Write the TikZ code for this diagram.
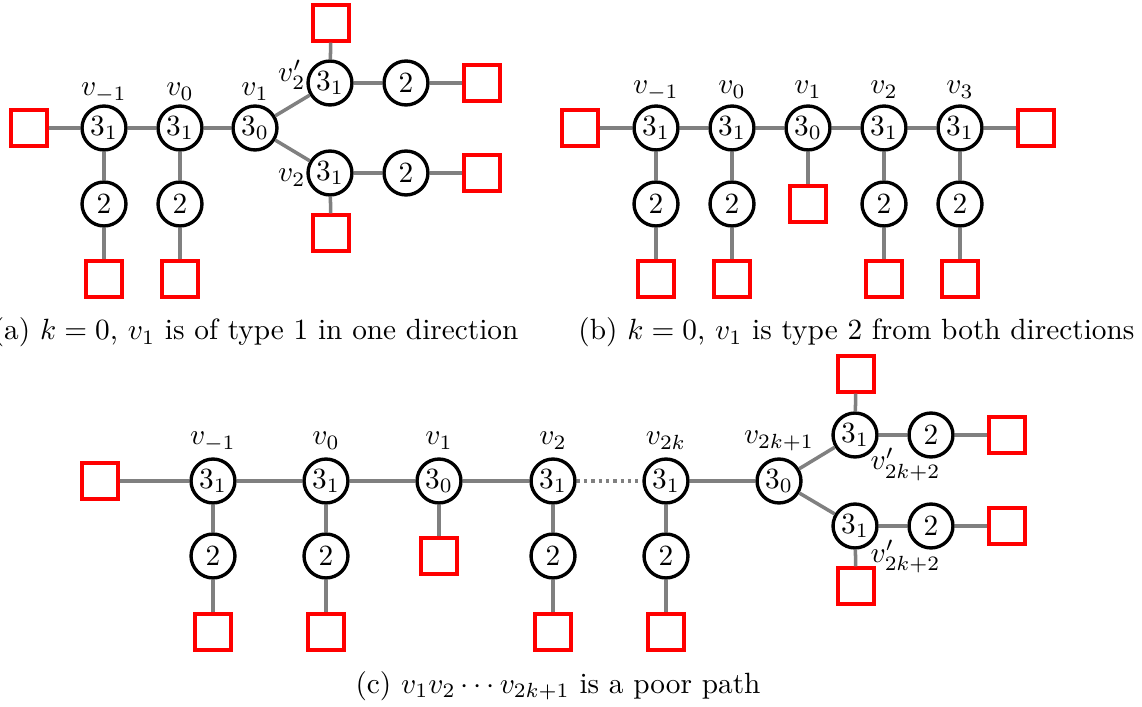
\documentclass[tikz,border=0pt]{standalone}
\usetikzlibrary{positioning}
\begin{document}
\begin{tikzpicture}[x=0.3413pt,y=-0.3413pt,
  vtx/.style={circle,draw=black,line width=1.15pt,minimum size=15pt,inner sep=0pt,fill=white},
  term/.style={rectangle,draw=red,line width=1.1pt,minimum size=12.3pt,inner sep=0pt},
  edge/.style={draw=gray,line width=1.2pt},
  dotedge/.style={edge,dash pattern=on 1.1pt off 1.4pt},
  lbl/.style={inner sep=0pt}]
\useasboundingbox (0,0) rectangle (1142,707);

% ---------- panel (a) ----------
\node[term] (sa0) at (29,128) {};
\node[vtx] (a1) at (104,128) {$3_1$};
\node[vtx] (a2) at (180,128) {$3_1$};
\node[vtx] (a3) at (255,128) {$3_0$};
\node[vtx] (a4) at (330,83) {$3_1$};
\node[vtx] (a5) at (406,83) {$2$};
\node[term] (sa5) at (482,83) {};
\node[term] (sa4) at (331,23) {};
\node[vtx] (a6) at (330,173) {$3_1$};
\node[vtx] (a7) at (406,173) {$2$};
\node[term] (sa7) at (482,173) {};
\node[term] (sa6) at (331,233) {};
\node[vtx] (a1b) at (104,204) {$2$};
\node[vtx] (a2b) at (180,204) {$2$};
\node[term] (sa1) at (104,279) {};
\node[term] (sa2) at (180,279) {};
\node[lbl,anchor=base] (la1) at (104,96) {$v_{-1}$};
\node[lbl,anchor=base] (la2) at (180,96) {$v_0$};
\node[lbl,anchor=base] (la3) at (255,96) {$v_1$};
\node[lbl,anchor=base east] (la4) at (306,82) {$v_2'$};
\node[lbl,anchor=base east] (la6) at (306,182) {$v_2$};
\draw[edge] (sa0) -- (a1);
\draw[edge] (a1) -- (a2);
\draw[edge] (a2) -- (a3);
\draw[edge] (a3) -- (a4);
\draw[edge] (a3) -- (a6);
\draw[edge] (a4) -- (a5);
\draw[edge] (a5) -- (sa5);
\draw[edge] (a4) -- (sa4);
\draw[edge] (a6) -- (a7);
\draw[edge] (a7) -- (sa7);
\draw[edge] (a6) -- (sa6);
\draw[edge] (a1) -- (a1b);
\draw[edge] (a1b) -- (sa1);
\draw[edge] (a2) -- (a2b);
\draw[edge] (a2b) -- (sa2);
\node[lbl,anchor=base east] (capa) at (519,340) {(a) $k=0$, $v_1$ is of type 1 in one direction};

% ---------- panel (b) ----------
\node[term] (sb0) at (580,128) {};
\node[vtx] (b1) at (656,128) {$3_1$};
\node[vtx] (b2) at (732,128) {$3_1$};
\node[vtx] (b3) at (808,128) {$3_0$};
\node[vtx] (b4) at (884,128) {$3_1$};
\node[vtx] (b5) at (960,128) {$3_1$};
\node[term] (sb6) at (1036,128) {};
\node[vtx] (b1m) at (656,204) {$2$};
\node[vtx] (b2m) at (732,204) {$2$};
\node[term] (sb3) at (808,204) {};
\node[vtx] (b4m) at (884,204) {$2$};
\node[vtx] (b5m) at (960,204) {$2$};
\node[term] (sb1) at (656,279) {};
\node[term] (sb2) at (732,279) {};
\node[term] (sb4) at (884,279) {};
\node[term] (sb5) at (960,279) {};
\node[lbl,anchor=base] (lb1) at (656,94) {$v_{-1}$};
\node[lbl,anchor=base] (lb2) at (732,94) {$v_0$};
\node[lbl,anchor=base] (lb3) at (808,94) {$v_1$};
\node[lbl,anchor=base] (lb4) at (884,94) {$v_2$};
\node[lbl,anchor=base] (lb5) at (960,94) {$v_3$};
\draw[edge] (sb0) -- (b1);
\draw[edge] (b1) -- (b2);
\draw[edge] (b2) -- (b3);
\draw[edge] (b3) -- (b4);
\draw[edge] (b4) -- (b5);
\draw[edge] (b5) -- (sb6);
\draw[edge] (b1) -- (b1m);
\draw[edge] (b2) -- (b2m);
\draw[edge] (b3) -- (sb3);
\draw[edge] (b4) -- (b4m);
\draw[edge] (b5) -- (b5m);
\draw[edge] (b1m) -- (sb1);
\draw[edge] (b2m) -- (sb2);
\draw[edge] (b4m) -- (sb4);
\draw[edge] (b5m) -- (sb5);
\node[lbl,anchor=base east] (capb) at (1135,340) {(b) $k=0$, $v_1$ is type 2 from both directions};

% ---------- panel (c) ----------
\node[term] (sc0) at (100,481) {};
\node[vtx] (c1) at (213,481) {$3_1$};
\node[vtx] (c2) at (326,481) {$3_1$};
\node[vtx] (c3) at (439,481) {$3_0$};
\node[vtx] (c4) at (553,481) {$3_1$};
\node[vtx] (c5) at (666,481) {$3_1$};
\node[vtx] (c6) at (779,481) {$3_0$};
\node[vtx] (c1m) at (213,556) {$2$};
\node[vtx] (c2m) at (326,556) {$2$};
\node[term] (sc3) at (439,556) {};
\node[vtx] (c4m) at (553,556) {$2$};
\node[vtx] (c5m) at (666,556) {$2$};
\node[term] (sc1) at (213,632) {};
\node[term] (sc2) at (326,632) {};
\node[term] (sc4) at (553,632) {};
\node[term] (sc5) at (666,632) {};
\node[vtx] (c7) at (855,435) {$3_1$};
\node[vtx] (c8) at (931,435) {$2$};
\node[term] (sc8) at (1007,435) {};
\node[term] (sc7) at (856,374) {};
\node[vtx] (c9) at (855,526) {$3_1$};
\node[vtx] (c10) at (931,526) {$2$};
\node[term] (sc10) at (1007,526) {};
\node[term] (sc9) at (856,586) {};
\node[lbl,anchor=base] (lc1) at (213,445) {$v_{-1}$};
\node[lbl,anchor=base] (lc2) at (326,445) {$v_0$};
\node[lbl,anchor=base] (lc3) at (439,445) {$v_1$};
\node[lbl,anchor=base] (lc4) at (553,445) {$v_2$};
\node[lbl,anchor=base] (lc5) at (666,445) {$v_{2k}$};
\node[lbl,anchor=base] (lc6) at (779,444) {$v_{2k+1}$};
\node[lbl,anchor=base west] (lc7) at (870,470) {$v'_{2k+2}$};
\node[lbl,anchor=base west] (lc9) at (870,562) {$v'_{2k+2}$};
\draw[edge] (sc0) -- (c1);
\draw[edge] (c1) -- (c2);
\draw[edge] (c2) -- (c3);
\draw[edge] (c3) -- (c4);
\draw[dotedge] (c4) -- (c5);
\draw[edge] (c5) -- (c6);
\draw[edge] (c6) -- (c7);
\draw[edge] (c6) -- (c9);
\draw[edge] (c1) -- (c1m);
\draw[edge] (c2) -- (c2m);
\draw[edge] (c3) -- (sc3);
\draw[edge] (c4) -- (c4m);
\draw[edge] (c5) -- (c5m);
\draw[edge] (c1m) -- (sc1);
\draw[edge] (c2m) -- (sc2);
\draw[edge] (c4m) -- (sc4);
\draw[edge] (c5m) -- (sc5);
\draw[edge] (c7) -- (c8);
\draw[edge] (c8) -- (sc8);
\draw[edge] (c7) -- (sc7);
\draw[edge] (c9) -- (c10);
\draw[edge] (c10) -- (sc10);
\draw[edge] (c9) -- (sc9);
\node[lbl,anchor=base west] (capc) at (355,693) {(c) $v_1v_2\cdots v_{2k+1}$ is a poor path};
\end{tikzpicture}
\end{document}
